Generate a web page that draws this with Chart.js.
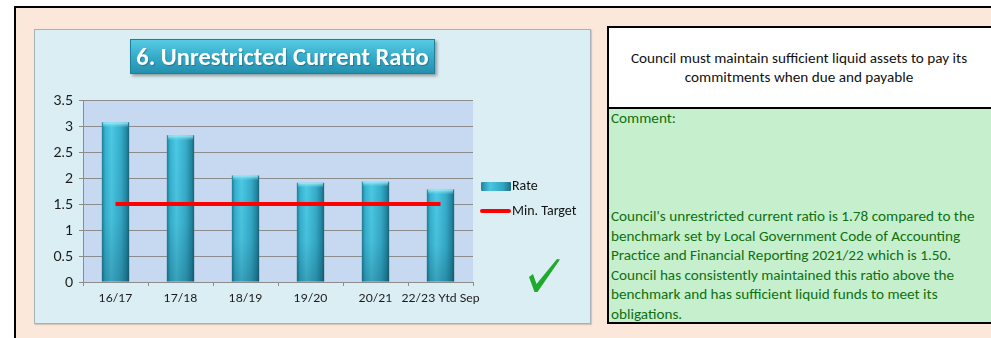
<!DOCTYPE html>
<html>
<head>
<meta charset="utf-8">
<script src="https://cdn.jsdelivr.net/npm/chart.js@4"></script>
<style>
  body { margin: 0; width: 991px; height: 338px; overflow: hidden; background: #fff; position: relative;
         font-family: Carlito, Calibri, Lato, sans-serif; }
  .abs { position: absolute; box-sizing: border-box; }
  #sheet { left: 14px; top: 6px; width: 990px; height: 340px; background: #FCE8DB;
           border-left: 2px solid #000; border-top: 2px solid #000; }
  #chartBox { left: 34px; top: 29px; width: 557px; height: 295px; background: #DAEEF3;
              border: 1px solid #A5B3B8; box-shadow: 1px 1px 1px rgba(0,0,0,0.15); }
  #title { left: 130px; top: 39px; width: 305px; height: 35px; color: #fff; font-weight: bold;
           font-size: 24.5px; line-height: 34px; text-align: center; white-space: nowrap;
           background: linear-gradient(#55CBE3, #33A9C8 55%, #2590AE);
           border: 1px solid #1F7F98; box-shadow: 2px 2px 3px rgba(0,0,0,0.35);
           text-shadow: 1px 1px 1px rgba(0,0,0,0.25); }
  #chart { left: 34px; top: 29px; }
  .legText { font-size: 14px; color: #111; line-height: 16px; white-space: nowrap; }
  #sw1 { left: 481px; top: 182px; width: 30px; height: 9px; border-radius: 1px;
         background: linear-gradient(90deg, #23839D, #49C6E2 30%, #2FA3C1 75%, #1D6C83); }
  #sw2 { left: 480px; top: 209px; width: 31px; height: 4px; background: #FF0000; border-radius: 2px; }
  #infoBox { left: 607px; top: 26px; width: 400px; height: 83px; background: #fff; border: 2px solid #000;
             display: flex; align-items: center; justify-content: center; text-align: center;
             padding-right: 16px; font-size: 15.2px; line-height: 19px; color: #111; }
  #commentBox { left: 607px; top: 107px; width: 400px; height: 217px; background: #C6EFCE;
                border: 2px solid #000; color: #107010; font-size: 15.2px; line-height: 19.6px; }
</style>
</head>
<body>
<div id="sheet" class="abs"></div>
<div id="chartBox" class="abs"></div>
<canvas id="chart" class="abs" width="556" height="294"></canvas>
<div id="title" class="abs">6. Unrestricted Current Ratio</div>

<div id="sw1" class="abs"></div>
<div class="abs legText" style="left:512px;top:178px">Rate</div>
<div id="sw2" class="abs"></div>
<div class="abs legText" style="left:512px;top:203px">Min. Target</div>

<svg class="abs" style="left:527px;top:256px" width="36" height="38">
  <path d="M2 21 L6 18 L9.5 28 L30 3 L33 3.5 L10.5 36 L7.5 36 Z" fill="#1FAA2E"/>
</svg>

<div id="infoBox" class="abs">Council must maintain sufficient liquid assets to pay its<br>commitments when due and payable</div>
<div id="commentBox" class="abs">
  <div class="abs" style="left:2px;top:0px">Comment:</div>
  <div class="abs" style="left:2px;top:98px;white-space:nowrap">
    Council's unrestricted current ratio is 1.78 compared to the<br>
    benchmark set by Local Government Code of Accounting<br>
    Practice and Financial Reporting 2021/22 which is 1.50.<br>
    Council has consistently maintained this ratio above the<br>
    benchmark and has sufficient liquid funds to meet its<br>
    obligations.
  </div>
</div>

<script>
// chart values
var CATEGORIES = ['16/17', '17/18', '18/19', '19/20', '20/21', '22/23 Ytd Sep'];
var RATE = [3.07, 2.82, 2.05, 1.91, 1.93, 1.78];
var MIN_TARGET = [1.5, 1.5, 1.5, 1.5, 1.5, 1.5];
var Y_MIN = 0, Y_MAX = 3.5, Y_STEP = 0.5;

var BAR_FRACTION = 0.42;
var FONT = 'Lato, sans-serif';

// cylinder-like shading across each bar
function barFill(ctx) {
  var chart = ctx.chart, xs = chart.scales.x;
  if (!xs || ctx.type !== 'data' || !xs.width) return '#35B0CF';
  var cx = xs.getPixelForValue(ctx.dataIndex);
  var half = xs.width / CATEGORIES.length * BAR_FRACTION / 2;
  if (!isFinite(cx) || !isFinite(half)) return '#35B0CF';
  var g = chart.ctx.createLinearGradient(cx - half, 0, cx + half, 0);
  g.addColorStop(0, '#1F7C95');
  g.addColorStop(0.12, '#36B2CF');
  g.addColorStop(0.35, '#4CC9E5');
  g.addColorStop(0.7, '#36ADCA');
  g.addColorStop(0.9, '#2488A2');
  g.addColorStop(1, '#1A6479');
  return g;
}

// plot area fill behind the grid
var plotBg = {
  id: 'plotBg',
  beforeDraw: function (chart) {
    var a = chart.chartArea, c = chart.ctx;
    c.save();
    c.fillStyle = '#C6D9F0';
    c.fillRect(a.left, a.top, a.right - a.left, a.bottom - a.top);
    c.restore();
  }
};

// darker base and light cap on each bar
var barShade = {
  id: 'barShade',
  afterDatasetDraw: function (chart, args) {
    if (args.meta.type !== 'bar') return;
    var c = chart.ctx;
    args.meta.data.forEach(function (bar) {
      var p = bar.getProps(['x', 'y', 'width', 'base'], true);
      if (![p.x, p.y, p.width, p.base].every(isFinite)) return;
      var l = p.x - p.width / 2;
      c.save();
      var v = c.createLinearGradient(0, p.y, 0, p.base);
      v.addColorStop(0, 'rgba(0,40,60,0)');
      v.addColorStop(0.6, 'rgba(0,40,60,0.06)');
      v.addColorStop(1, 'rgba(0,40,60,0.25)');
      c.fillStyle = v;
      c.fillRect(l, p.y, p.width, p.base - p.y);
      var cap = c.createLinearGradient(0, p.y, 0, p.y + 5);
      cap.addColorStop(0, 'rgba(170,240,252,0.95)');
      cap.addColorStop(1, 'rgba(120,220,240,0)');
      c.fillStyle = cap;
      c.fillRect(l + 1, p.y, p.width - 2, 5);
      c.restore();
    });
  }
};

new Chart(document.getElementById('chart'), {
  data: {
    labels: CATEGORIES,
    datasets: [
      {
        type: 'line',
        label: 'Min. Target',
        data: MIN_TARGET,
        borderColor: '#FF0000',
        borderWidth: 4,
        pointRadius: 0,
        order: 0
      },
      {
        type: 'bar',
        label: 'Rate',
        data: RATE,
        backgroundColor: barFill,
        borderWidth: 0,
        barPercentage: BAR_FRACTION,
        categoryPercentage: 1,
        order: 1
      }
    ]
  },
  options: {
    responsive: false,
    animation: false,
    layout: { padding: { top: 71, right: 117, bottom: 11, left: 0 } },
    plugins: { legend: { display: false }, tooltip: { enabled: false } },
    scales: {
      x: {
        offset: true,
        grid: { offset: true, drawOnChartArea: false, drawTicks: true, tickLength: 4, color: '#8C8C8C' },
        border: { color: '#8C8C8C' },
        ticks: { color: '#1A1A1A', font: { family: FONT, size: 12.2 }, padding: 5, maxRotation: 0, autoSkip: false },
        afterFit: function (s) { s.height = 30; }
      },
      y: {
        min: Y_MIN,
        max: Y_MAX,
        ticks: {
          stepSize: Y_STEP, color: '#1A1A1A', font: { family: FONT, size: 14 }, padding: 6,
          callback: function (v) { return String(v); }
        },
        grid: { color: '#8C8C8C', tickLength: 4 },
        border: { color: '#8C8C8C' },
        afterFit: function (s) { s.width = 49; }
      }
    }
  },
  plugins: [plotBg, barShade]
});
</script>
</body>
</html>
